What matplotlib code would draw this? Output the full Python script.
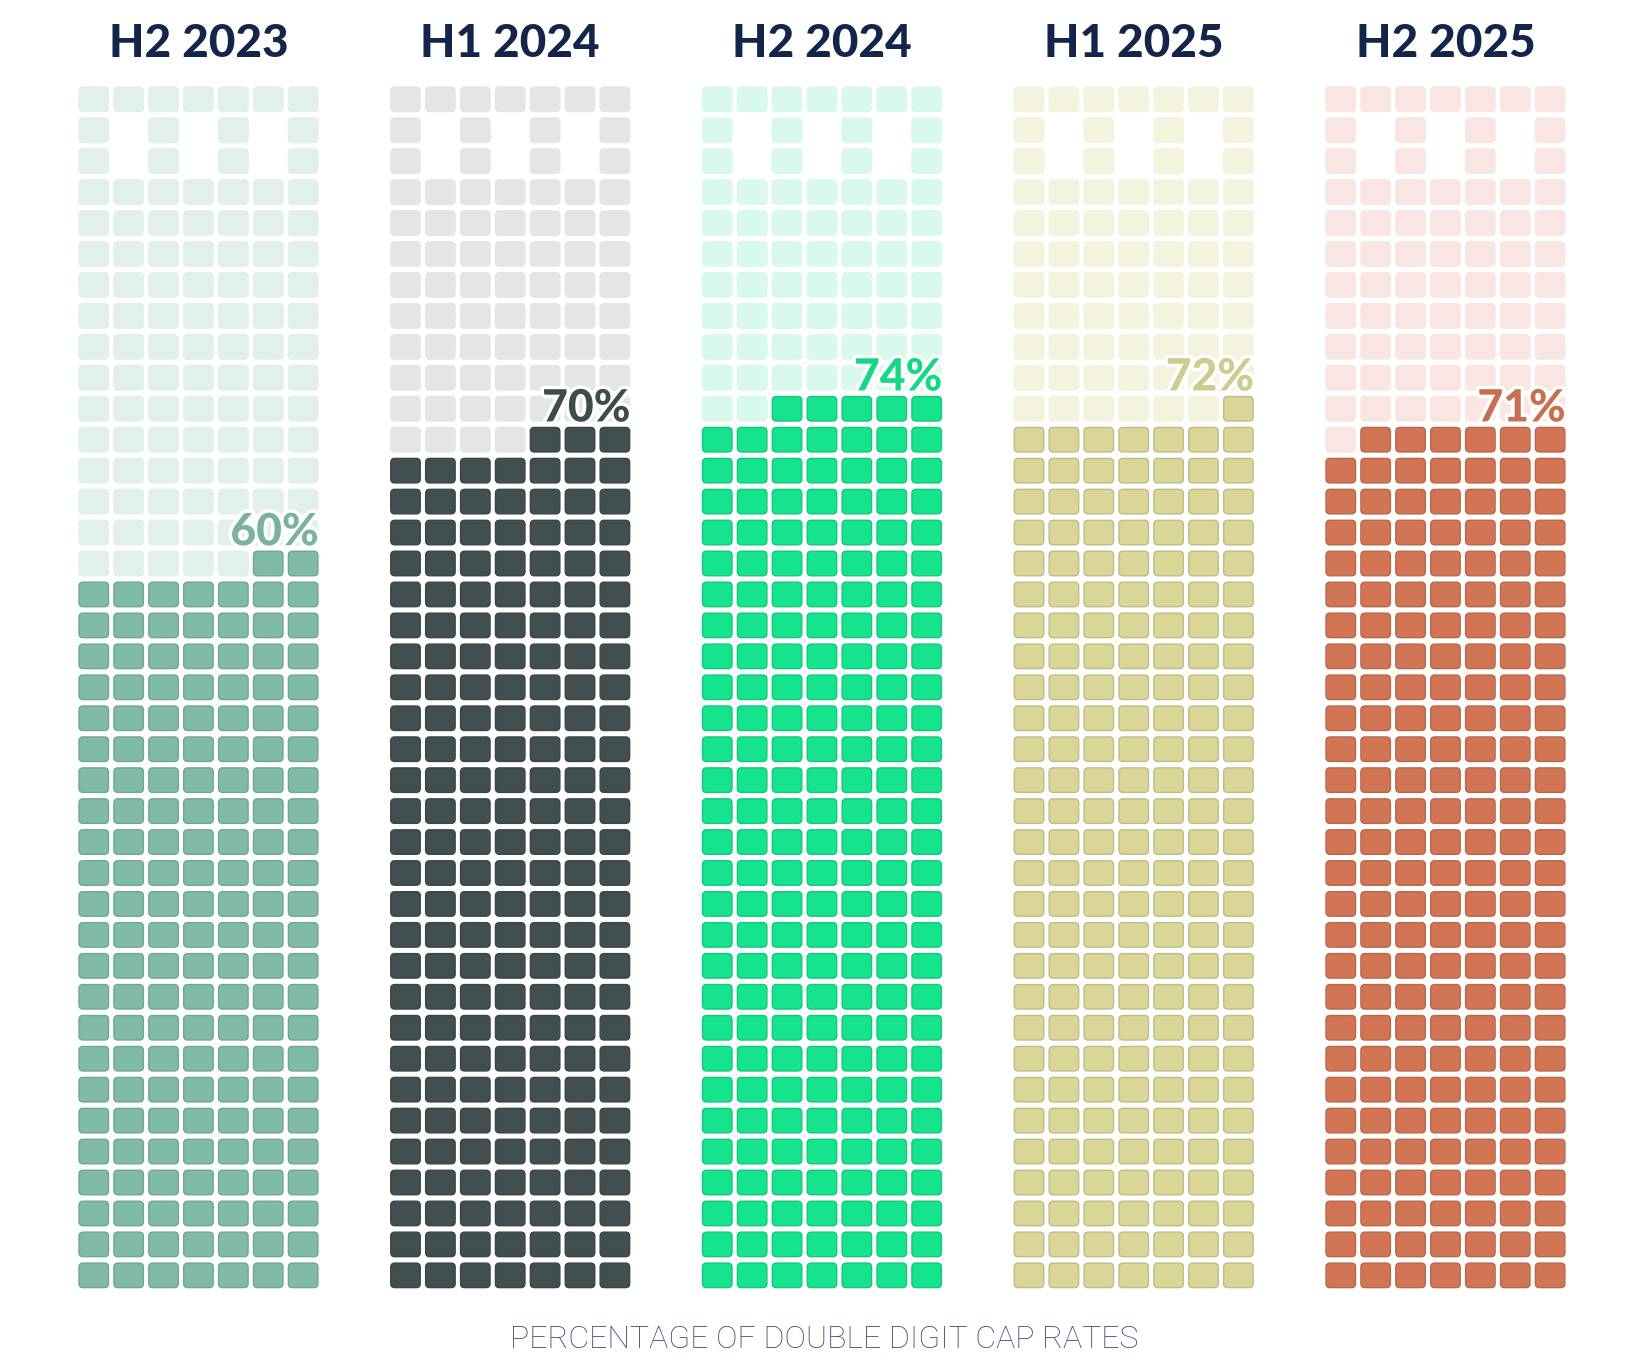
import matplotlib.pyplot as plt
from matplotlib.patches import FancyBboxPatch
import matplotlib.patheffects as pe
import matplotlib.colors as mcolors

# data
periods = ['H2 2023', 'H1 2024', 'H2 2024', 'H1 2025', 'H2 2025']
pct = [60, 70, 74, 72, 71]
filled_cells = [163, 192, 201, 197, 195]   # squares coloured in each column (out of 7 x 39)
full_colors = ['#80bba9', '#414f51', '#16e38d', '#d9d697', '#d27555']
light_colors = ['#e2f0ed', '#e3e5e7', '#d9f9ec', '#f4f3de', '#f9e6e3']
caption = 'PERCENTAGE OF DOUBLE DIGIT CAP RATES'

# grid layout (pixel units)
W, H = 1644, 1369
ncols, nrows = 7, 39
windows = [(1, 1), (1, 3), (1, 5), (2, 1), (2, 3), (2, 5)]  # (row, col) left blank at the top
col_left0, col_step = 79, 311.75
cell_w, cell_h = 29.5, 24.5
pitch_x, pitch_y = 34.9, 30.95
top0 = 87

fig = plt.figure(figsize=(W / 100, H / 100), dpi=100)
ax = fig.add_axes([0, 0, 1, 1])
ax.set_xlim(0, W)
ax.set_ylim(H, 0)
ax.axis('off')

def darker(c, f=0.88):
    r, g, b = mcolors.to_rgb(c)
    return (r * f, g * f, b * f)

for k, name in enumerate(periods):
    left = col_left0 + k * col_step
    right = left + (ncols - 1) * pitch_x + cell_w
    n = filled_cells[k]
    top_filled = None
    for r in range(nrows):
        for c in range(ncols):
            if (r, c) in windows:
                continue
            # index counted from bottom row, right to left
            idx = (nrows - 1 - r) * ncols + (ncols - 1 - c)
            on = idx < n
            x = left + c * pitch_x
            y = top0 + r * pitch_y
            fc = full_colors[k] if on else light_colors[k]
            ec = darker(full_colors[k]) if on else light_colors[k]
            box = FancyBboxPatch((x, y), cell_w, cell_h,
                                 boxstyle='round,pad=0,rounding_size=4',
                                 fc=fc, ec=ec, lw=1.0)
            ax.add_patch(box)
            if on and (top_filled is None or y < top_filled):
                top_filled = y

    ax.text((left + right) / 2, 44, name, ha='center', va='center',
            fontsize=33, fontweight='black', family=['Lato', 'DejaVu Sans'],
            color='#13254a')
    ax.text(right + 1, top_filled - 6, f'{pct[k]}%', ha='right', va='baseline',
            fontsize=32, fontweight='black', family=['Lato', 'DejaVu Sans'],
            color=darker(full_colors[k], 0.95),
            path_effects=[pe.withStroke(linewidth=5, foreground='white')])

ax.text(W / 2 + 2, 1340, caption, ha='center', va='center', fontsize=23,
        family=['Roboto', 'DejaVu Sans'], fontweight='light', color='#3c4770')

fig.savefig('out.png', dpi=100, facecolor='white')
